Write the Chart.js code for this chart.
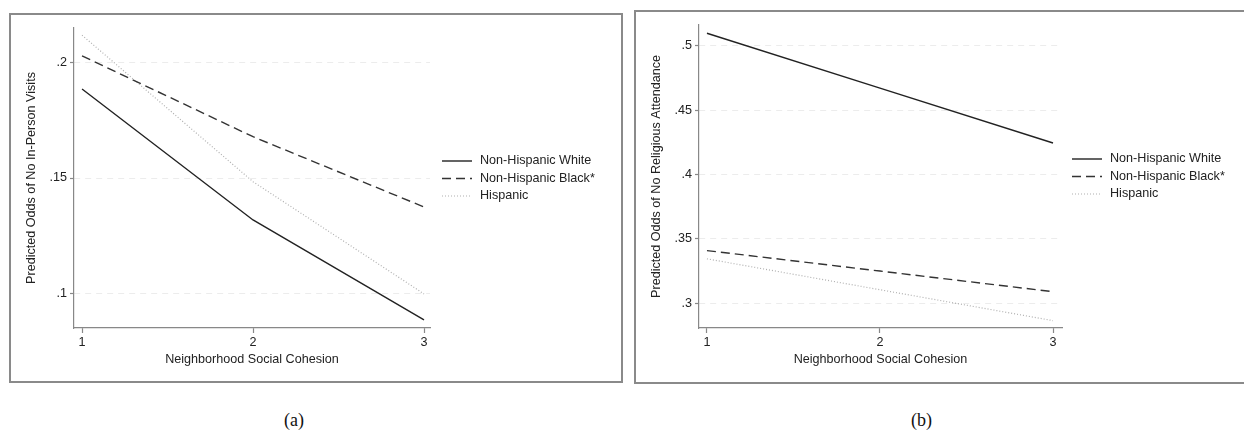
<!DOCTYPE html>
<html>
<head>
<meta charset="utf-8">
<script src="https://cdn.jsdelivr.net/npm/chart.js@4.4.1/dist/chart.umd.min.js"></script>
<style>
  html, body { margin: 0; padding: 0; background: #fff; }
  body { width: 1244px; height: 433px; position: relative; overflow: hidden; }
  .panel { position: absolute; box-sizing: border-box; border: 2px solid #8a8a8a; }
  .panel canvas { position: absolute; left: 0; top: 0; }
  .cap { position: absolute; top: 410px; font-family: "Liberation Serif", "Times New Roman", serif; font-size: 18px; color: #111; }
</style>
</head>
<body>
<div class="panel" id="boxA" style="left:9px; top:13px; width:614px; height:370px;">
  <canvas id="chartA"></canvas>
</div>
<div class="panel" id="boxB" style="left:634px; top:10px; width:620px; height:374px;">
  <canvas id="chartB"></canvas>
</div>
<div class="cap" style="left:284px;">(a)</div>
<div class="cap" style="left:911px;">(b)</div>

<script>
// x categories
const cohesion = [1, 2, 3];
const groupNames = ['Non-Hispanic White', 'Non-Hispanic Black*', 'Hispanic'];

// panel (a): predicted odds of no in-person visits
const visitsWhite = [0.1884, 0.1319, 0.0888];
const visitsBlack = [0.2027, 0.1678, 0.1375];
const visitsHispanic = [0.2116, 0.1484, 0.1000];
const visitTicks = [0.1, 0.15, 0.2];

// panel (b): predicted odds of no religious attendance
const attendWhite = [0.5096, 0.4670, 0.4244];
const attendBlack = [0.3409, 0.3250, 0.3090];
const attendHispanic = [0.3345, 0.3105, 0.2865];
const attendTicks = [0.3, 0.35, 0.4, 0.45, 0.5];

const lineStyles = [
  { color: '#222', width: 1.4, dash: [] },
  { color: '#333', width: 1.4, dash: [9, 5] },
  { color: '#b0b0b0', width: 1.2, dash: [1, 2] }
];

const FONT = 'Arial, "Liberation Sans", Helvetica, sans-serif';
const FS = 12.6;

function fmtTick(v) {
  return String(+v.toFixed(2)).replace(/^0\./, '.');
}

// legend drawn at a fixed spot to the right of the plot, like Stata does
const sideLegend = {
  id: 'sideLegend',
  afterDraw(chart, args, opts) {
    const ctx = chart.ctx;
    ctx.save();
    ctx.font = FS + 'px ' + FONT;
    ctx.textBaseline = 'middle';
    chart.data.datasets.forEach((ds, i) => {
      const y = opts.y + i * opts.gap;
      ctx.beginPath();
      ctx.strokeStyle = ds.borderColor;
      ctx.lineWidth = ds.borderWidth;
      ctx.setLineDash(ds.borderDash || []);
      ctx.moveTo(opts.x, y);
      ctx.lineTo(opts.x + 30, y);
      ctx.stroke();
      ctx.setLineDash([]);
      ctx.fillStyle = '#222';
      ctx.fillText(ds.label, opts.x + 38, y);
    });
    ctx.restore();
  }
};

function makeChart(id, w, h, series, o) {
  const cv = document.getElementById(id);
  cv.width = w; cv.height = h;
  cv.style.width = w + 'px'; cv.style.height = h + 'px';
  return new Chart(cv, {
    type: 'line',
    data: {
      datasets: series.map((vals, i) => ({
        label: groupNames[i],
        data: cohesion.map((x, j) => ({ x: x, y: vals[j] })),
        borderColor: lineStyles[i].color,
        borderWidth: lineStyles[i].width,
        borderDash: lineStyles[i].dash,
        pointRadius: 0,
        fill: false,
        tension: 0
      }))
    },
    options: {
      responsive: false,
      animation: false,
      layout: { padding: { top: o.padTop, right: o.padRight, left: 0, bottom: 0 } },
      plugins: {
        legend: { display: false },
        tooltip: { enabled: false },
        sideLegend: { x: o.legX, y: o.legY, gap: 17.5 }
      },
      scales: {
        x: {
          type: 'linear',
          min: o.xMin, max: o.xMax,
          afterBuildTicks: s => { s.ticks = cohesion.map(v => ({ value: v })); },
          afterFit: s => { s.height = o.xH; },
          grid: { drawOnChartArea: false, drawTicks: true, tickLength: 5, tickColor: '#888', tickWidth: 1.2 },
          border: { color: '#888', width: 1.2 },
          ticks: { color: '#222', font: { family: FONT, size: FS }, padding: 2, maxRotation: 0, callback: v => String(v) },
          title: { display: true, text: 'Neighborhood Social Cohesion', color: '#222', font: { family: FONT, size: FS }, padding: { top: 0, bottom: o.xTitlePad } }
        },
        y: {
          min: o.yMin, max: o.yMax,
          afterBuildTicks: s => { s.ticks = o.yTicks.map(v => ({ value: v })); },
          afterFit: s => { s.width = o.yW; },
          grid: { color: '#ececec', lineWidth: 1, drawTicks: true, tickLength: 4, tickColor: '#888', tickWidth: 1.2 },
          border: { color: '#888', width: 1.2, dash: [6, 5] },
          ticks: { color: '#222', font: { family: FONT, size: FS }, padding: 3, callback: v => fmtTick(v) },
          title: { display: true, text: o.yTitle, color: '#222', font: { family: FONT, size: FS }, padding: { top: 13, bottom: 0 } }
        }
      }
    },
    plugins: [sideLegend]
  });
}

makeChart('chartA', 610, 366, [visitsWhite, visitsBlack, visitsHispanic], {
  padTop: 13, padRight: 191, xH: 53, yW: 63, xTitlePad: 14,
  xMin: 0.953, xMax: 3.035, yMin: 0.0853, yMax: 0.2147, yTicks: visitTicks,
  yTitle: 'Predicted Odds of No In-Person Visits',
  legX: 431, legY: 146
});

makeChart('chartB', 616, 370, [attendWhite, attendBlack, attendHispanic], {
  padTop: 13, padRight: 190, xH: 54, yW: 63, xTitlePad: 15,
  xMin: 0.954, xMax: 3.052, yMin: 0.2808, yMax: 0.516, yTicks: attendTicks,
  yTitle: 'Predicted Odds of No Religious Attendance',
  legX: 436, legY: 147
});
</script>
</body>
</html>
